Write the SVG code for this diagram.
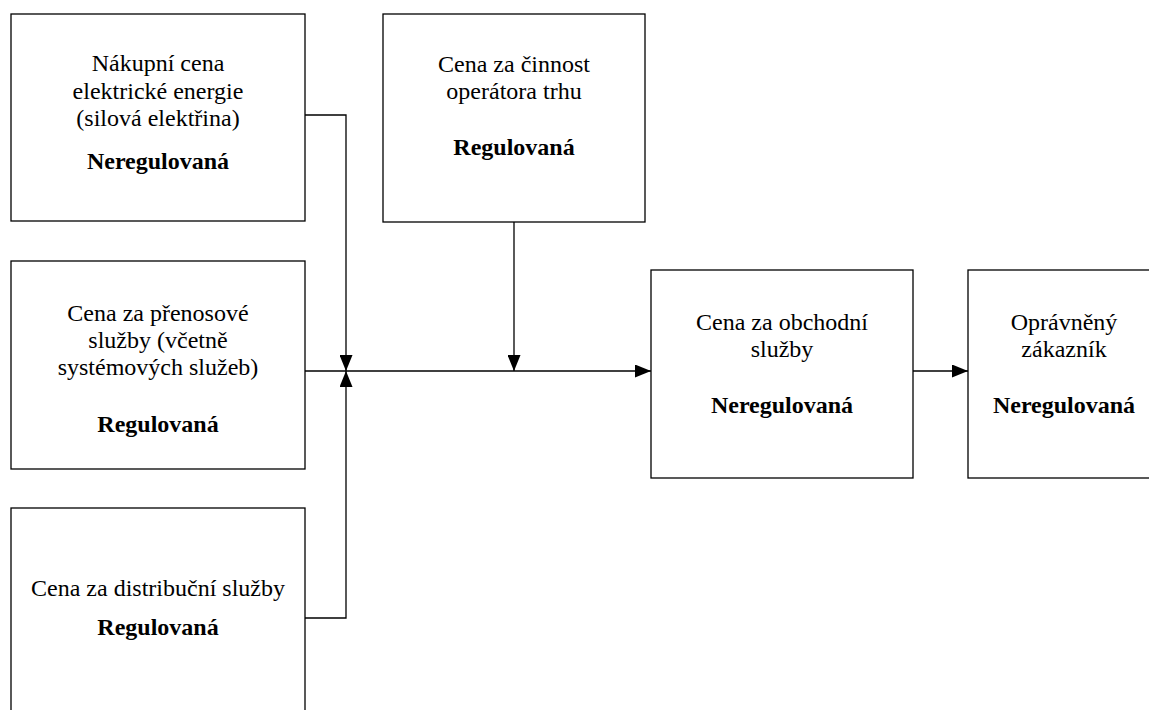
<svg xmlns="http://www.w3.org/2000/svg" width="1149" height="710" viewBox="0 0 1149 710">
<style>
.box{fill:#fff;stroke:#000;stroke-width:1.3}
.t{font-family:"Liberation Serif","Times New Roman",serif;font-size:24px;fill:#000;text-anchor:middle}
.b{font-weight:bold}
.c{fill:none;stroke:#000;stroke-width:1.3}
</style>
<defs>
<marker id="ah" viewBox="0 0 16 13" refX="16" refY="6.5" markerWidth="16" markerHeight="13" markerUnits="userSpaceOnUse" orient="auto">
<path d="M0,0 L16,6.5 L0,13 Z" fill="#000"/>
</marker>
</defs>
<rect width="1149" height="710" fill="#fff"/>
<g id="n1">
<rect class="box" x="11" y="14" width="294" height="207"/>
<text class="t" x="158" y="71">Nákupní cena</text>
<text class="t" x="158" y="99">elektrické energie</text>
<text class="t" x="158" y="126">(silová elektřina)</text>
<text class="t b" x="158" y="169">Neregulovaná</text>
</g>
<g id="n2">
<rect class="box" x="11" y="261" width="294" height="208"/>
<text class="t" x="158" y="321">Cena za přenosové</text>
<text class="t" x="158" y="348">služby (včetně</text>
<text class="t" x="158" y="375">systémových služeb)</text>
<text class="t b" x="158" y="432">Regulovaná</text>
</g>
<g id="n3">
<rect class="box" x="11" y="508" width="294" height="210"/>
<text class="t" x="158" y="596">Cena za distribuční služby</text>
<text class="t b" x="158" y="635">Regulovaná</text>
</g>
<g id="n4">
<rect class="box" x="383" y="14" width="262" height="208"/>
<text class="t" x="514" y="72">Cena za činnost</text>
<text class="t" x="514" y="99">operátora trhu</text>
<text class="t b" x="514" y="155">Regulovaná</text>
</g>
<g id="n5">
<rect class="box" x="651" y="270" width="262" height="208"/>
<text class="t" x="782" y="330">Cena za obchodní</text>
<text class="t" x="782" y="357">služby</text>
<text class="t b" x="782" y="413">Neregulovaná</text>
</g>
<g id="n6">
<rect class="box" x="968" y="270" width="200" height="208"/>
<text class="t" x="1064" y="330">Oprávněný</text>
<text class="t" x="1064" y="357">zákazník</text>
<text class="t b" x="1064" y="413">Neregulovaná</text>
</g>
<g id="connectors">
<path class="c" d="M305,115 H346 V371" marker-end="url(#ah)"/>
<path class="c" d="M305,618 H346 V371" marker-end="url(#ah)"/>
<path class="c" d="M514,222 V371" marker-end="url(#ah)"/>
<path class="c" d="M305,371 H651" marker-end="url(#ah)"/>
<path class="c" d="M913,371 H968" marker-end="url(#ah)"/>
</g>
</svg>
